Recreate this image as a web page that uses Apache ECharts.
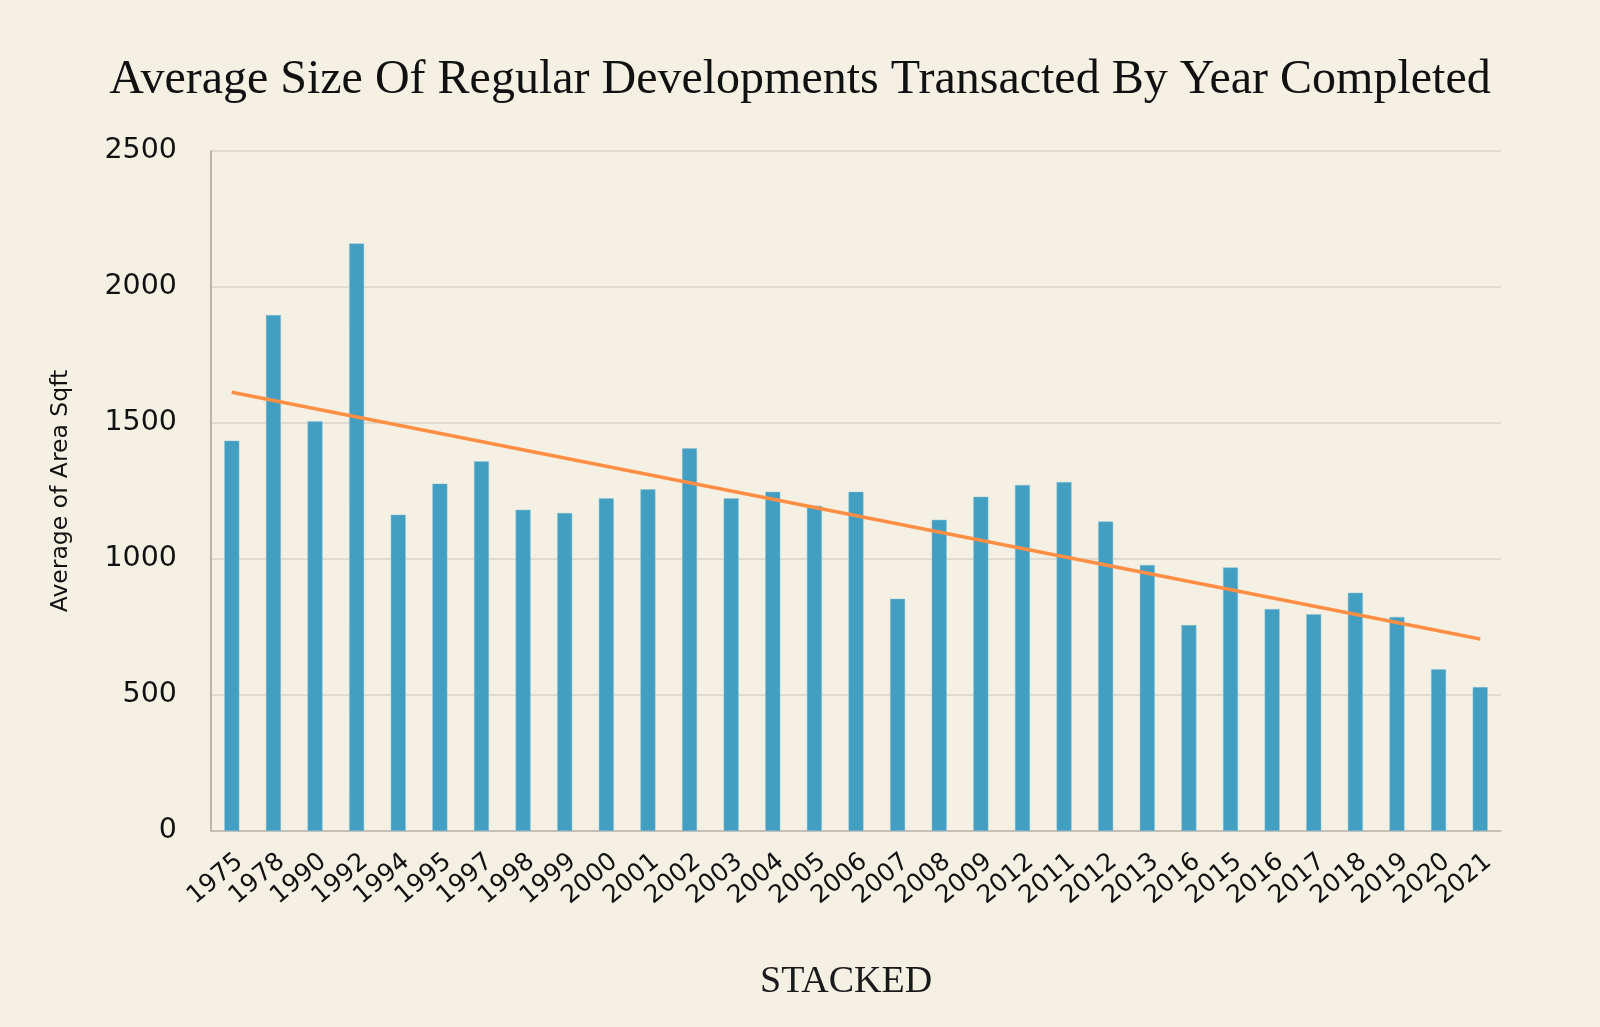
<!DOCTYPE html>
<html>
<head>
<meta charset="utf-8">
<title>Average Size Of Regular Developments</title>
<script src="https://cdn.jsdelivr.net/npm/echarts@6/dist/echarts.min.js"></script>
<style>
    html, body { margin: 0; padding: 0; background: #F4F0E4; }
    #chart { width: 1600px; height: 1027px; }
</style>
</head>
<body>
<div id="chart"></div>
<script>
// Year labels as printed on the chart (duplicates kept as in the source)
const years = [
    "1975", "1978", "1990", "1992", "1994", "1995", "1997", "1998", "1999", "2000",
    "2001", "2002", "2003", "2004", "2005", "2006", "2007", "2008", "2009", "2012",
    "2011", "2012", "2013", "2016", "2015", "2016", "2017", "2018", "2019", "2020",
    "2021"
];
// Average of Area Sqft per year
const avgArea = [
    1435, 1897, 1506, 2160, 1163, 1277, 1359, 1181, 1169, 1223,
    1256, 1407, 1223, 1247, 1196, 1247, 854, 1144, 1229, 1272,
    1283, 1138, 978, 757, 969, 816, 797, 876, 787, 595,
    529
];
// Linear trend line, value at first and last year
const trendEnds = [1613, 706];
const yTicks = { min: 0, max: 2500, step: 500 };

const chart = echarts.init(document.getElementById("chart"));

const options = {
    backgroundColor: "#F4F0E4",
    animation: false,
    title: [
        {
            text: "Average Size Of Regular Developments Transacted By Year Completed",
            left: "center",
            top: 56,
            padding: 0,
            textStyle: {
                fontFamily: "Liberation Serif",
                fontWeight: "normal",
                fontSize: 48,
                color: "#111111",
            },
        },
        {
            text: "STACKED",
            left: 760,
            top: 963,
            padding: 0,
            textStyle: {
                fontFamily: "Liberation Serif",
                fontWeight: "normal",
                fontSize: 38,
                color: "#1a1a1a",
            },
        },
    ],
    grid: {
        left: 211,
        right: 99,
        top: 151,
        bottom: 196,
        containLabel: false,
    },
    xAxis: {
        type: "category",
        data: years,
        axisTick: { show: false },
        axisLine: { lineStyle: { color: "#BDB8AE", width: 1.5 } },
        axisLabel: {
            interval: 0,
            rotate: 40,
            margin: 18,
            verticalAlign: "top",
            fontFamily: "DejaVu Sans",
            fontSize: 25,
            color: "#111111",
        },
    },
    yAxis: {
        type: "value",
        min: yTicks.min,
        max: yTicks.max,
        interval: yTicks.step,
        name: "Average of Area Sqft",
        nameLocation: "middle",
        nameGap: 138,
        nameTextStyle: {
            fontFamily: "DejaVu Sans",
            fontSize: 23.5,
            color: "#111111",
        },
        axisLine: { show: true, lineStyle: { color: "#A9A59C", width: 1.5 } },
        axisTick: { show: false },
        axisLabel: {
            margin: 34,
            fontFamily: "DejaVu Sans",
            fontSize: 28.5,
            color: "#111111",
            formatter: (v) => String(v),
        },
        splitLine: { lineStyle: { color: "#D8D4CA", width: 1.5 } },
    },
    series: [
        {
            name: "Average of Area Sqft",
            type: "bar",
            data: avgArea,
            barWidth: 15,
            itemStyle: {
                color: "#429FC2",
                borderColor: "#8CC3D6",
                borderWidth: 0.5,
            },
            markLine: {
                silent: true,
                symbol: "none",
                label: { show: false },
                lineStyle: { color: "#FF8E45", width: 3.5, type: "solid" },
                data: [
                    [
                        { coord: [0, trendEnds[0]] },
                        { coord: [years.length - 1, trendEnds[1]] },
                    ],
                ],
            },
        },
    ],
};

chart.setOption(options);
window.addEventListener("resize", () => {
    chart.resize();
});
</script>
</body>
</html>
